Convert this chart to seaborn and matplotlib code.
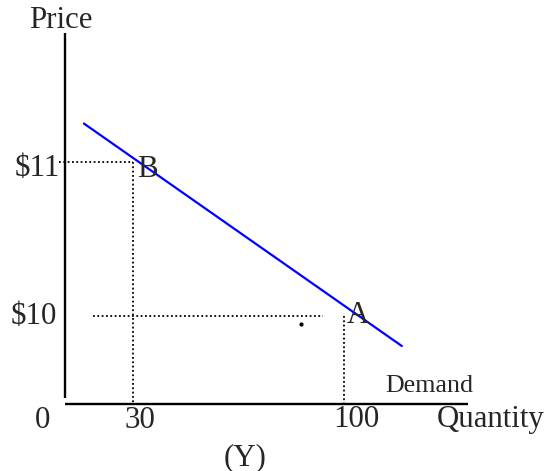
import matplotlib
matplotlib.use("Agg")
import matplotlib.pyplot as plt
import seaborn as sns
import pandas as pd

sns.set_theme(style="white")
plt.rcParams['font.family'] = ['Liberation Serif', 'DejaVu Serif']

# Data (quantity, price)
demand_q = [13.7, 119.2]
demand_p = [11.25, 9.805]
point_q = [30, 100]
point_p = [11, 10]
point_names = ["B", "A"]
price_ticks = ["$11", "$10"]
qty_ticks = [0, 30, 100]

# axis extents in data units
xlim = (-14.13, 167.68)
ylim = (8.9935, 12.052)
yaxis_q = 7.43
yaxis_p = (9.468, 11.838)
xaxis_p = 9.429
xaxis_q = (7.43, 141.1)

fig = plt.figure(figsize=(5.48, 4.71), dpi=100)
ax = fig.add_axes([0, 0, 1, 1])
ax.set_xlim(*xlim)
ax.set_ylim(*ylim)
ax.axis("off")

# axes lines
ax.plot([yaxis_q, yaxis_q], list(yaxis_p), color="black", lw=1.7, solid_capstyle="butt")
ax.plot(list(xaxis_q), [xaxis_p, xaxis_p], color="black", lw=1.7, solid_capstyle="butt")

# dotted guides
dot = dict(color="black", lw=1.3, linestyle=(0, (1, 1.4)))
ax.plot([5.4, point_q[0]], [point_p[0], point_p[0]], **dot)
ax.plot([point_q[0], point_q[0]], [point_p[0], xaxis_p], **dot)
ax.plot([16.7, 93.0], [point_p[1], point_p[1]], **dot)
ax.plot([point_q[1], point_q[1]], [point_p[1], xaxis_p], **dot)
ax.plot([85.7], [9.948], marker="o", ms=2.0, color="black", lw=0)

# demand curve
df = pd.DataFrame({"q": demand_q, "p": demand_p})
sns.lineplot(data=df, x="q", y="p", ax=ax, color="#0000ff", lw=1.6)
ax.set_xlim(*xlim)
ax.set_ylim(*ylim)
ax.axis("off")

fs = 22.2
ax.text(6.1, 11.870, "Price", fontsize=fs, ha="center", va="baseline")
ax.text(5.9, 10.909, price_ticks[0], fontsize=fs, ha="right", va="baseline")
ax.text(4.9, 9.948, price_ticks[1], fontsize=fs, ha="right", va="baseline")
ax.text(31.3, 10.903, point_names[0], fontsize=fs, ha="left", va="baseline")
ax.text(101.0, 9.955, point_names[1], fontsize=fs, ha="left", va="baseline")
ax.text(113.6, 9.506, "Demand", fontsize=18.7, ha="left", va="baseline")
ax.text(0.13, 9.273, str(qty_ticks[0]), fontsize=fs, ha="center", va="baseline")
ax.text(32.3, 9.273, str(qty_ticks[1]), fontsize=fs, ha="center", va="baseline")
ax.text(104.0, 9.279, str(qty_ticks[2]), fontsize=fs, ha="center", va="baseline")
ax.text(130.9, 9.279, "Quantity", fontsize=fs, ha="left", va="baseline")
ax.text(67.2, 9.032, "(Y)", fontsize=fs, ha="center", va="baseline")

fig.savefig("out.png", dpi=100)
